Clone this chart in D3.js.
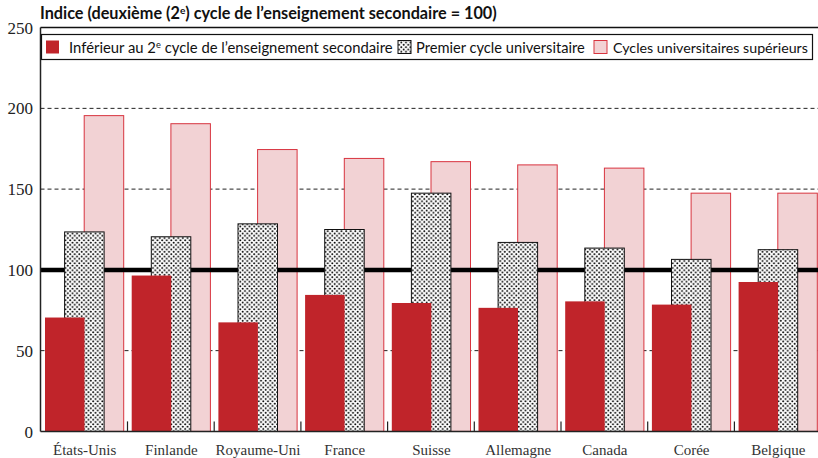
<!DOCTYPE html>
<html>
<head>
<meta charset="utf-8">
<script src="https://cdn.jsdelivr.net/npm/d3@7"></script>
<style>
  body { margin: 0; background: #fff; }
  svg { display: block; }
</style>
</head>
<body>
<div id="wrapper"></div>
<script>
// data
const countries = ["États-Unis", "Finlande", "Royaume-Uni", "France", "Suisse", "Allemagne", "Canada", "Corée", "Belgique"]
const belowUpperSecondary = [70.5, 96.5, 67.5, 84.5, 79.5, 76.5, 80.5, 78.5, 92.5]
const tertiaryTypeB = [123.5, 120.5, 128.5, 125, 147.5, 117, 113.5, 106.5, 112.5]
const tertiaryTypeA = [195.5, 190.5, 174.5, 169, 167, 165, 163, 147.5, 147.5]
const yTicks = [0, 50, 100, 150, 200, 250]
const seriesNames = ["Inférieur au 2e cycle de l’enseignement secondaire", "Premier cycle universitaire", "Cycles universitaires supérieurs"]

function drawChart() {
  // 1. dimensions
  const width = 818
  const height = 458
  const x0 = 40.5

  const svg = d3.select("#wrapper").append("svg")
      .attr("width", width)
      .attr("height", height)

  // 2. scales
  const yScale = d3.scaleLinear()
      .domain([0, 250])
      .range([431.4, 27.6])

  const xScale = d3.scaleBand()
      .domain(countries)
      .range([41.3, 41.3 + 86.7 * countries.length])

  const seriesScale = d3.scalePoint()
      .domain([0, 1, 2])
      .range([3.7, 42.9])
  const barW = 39.5

  // dot pattern
  const pat = svg.append("defs").append("pattern")
      .attr("id", "dots")
      .attr("width", 4.6).attr("height", 4.6)
      .attr("patternUnits", "userSpaceOnUse")
  pat.append("rect").attr("width", 4.6).attr("height", 4.6).attr("fill", "#fff")
  pat.append("circle").attr("cx", 1.15).attr("cy", 1.15).attr("r", 1.0).attr("fill", "#000")
  pat.append("circle").attr("cx", 3.45).attr("cy", 3.45).attr("r", 1.0).attr("fill", "#000")

  // 3. grid lines (dashed)
  svg.append("g").selectAll("line")
    .data([50, 150, 200])
    .join("line")
      .attr("x1", x0).attr("x2", width)
      .attr("y1", d => yScale(d)).attr("y2", d => yScale(d))
      .attr("stroke", "#222")
      .attr("stroke-width", 1)
      .attr("stroke-dasharray", "4,3")

  // 4. bars
  const rows = countries.map((c, i) => ({
    country: c,
    values: [belowUpperSecondary[i], tertiaryTypeB[i], tertiaryTypeA[i]]
  }))

  const drawSeries = (k, fill, stroke) => {
    svg.append("g").selectAll("rect")
      .data(rows)
      .join("rect")
        .attr("x", d => xScale(d.country) + seriesScale(k))
        .attr("y", d => yScale(d.values[k]))
        .attr("width", barW)
        .attr("height", d => yScale(0) - yScale(d.values[k]))
        .attr("fill", fill)
        .attr("stroke", stroke)
        .attr("stroke-width", 1)
  }

  drawSeries(2, "#f2d2d4", "#d8343f")

  // reference line at 100
  svg.append("line")
      .attr("x1", x0).attr("x2", width)
      .attr("y1", yScale(100)).attr("y2", yScale(100))
      .attr("stroke", "#000")
      .attr("stroke-width", 4.5)

  drawSeries(1, "url(#dots)", "#111")
  drawSeries(0, "#c0242a", "none")

  // 5. axes
  svg.append("line")
      .attr("x1", x0).attr("x2", x0)
      .attr("y1", yScale(250)).attr("y2", yScale(0))
      .attr("stroke", "#222").attr("stroke-width", 1.5)
  svg.append("line")
      .attr("x1", x0).attr("x2", width)
      .attr("y1", yScale(0)).attr("y2", yScale(0))
      .attr("stroke", "#222").attr("stroke-width", 1.5)
  svg.append("line")
      .attr("x1", x0).attr("x2", width)
      .attr("y1", yScale(250)).attr("y2", yScale(250))
      .attr("stroke", "#111").attr("stroke-width", 1.5)

  // category separator ticks
  svg.append("g").selectAll("line")
    .data(countries.slice(1))
    .join("line")
      .attr("x1", d => xScale(d) - 0.5).attr("x2", d => xScale(d) - 0.5)
      .attr("y1", yScale(0) - 10).attr("y2", yScale(0))
      .attr("stroke", "#222").attr("stroke-width", 1.2)

  svg.append("g").selectAll("text")
    .data(yTicks)
    .join("text")
      .attr("x", 33)
      .attr("y", d => yScale(d))
      .attr("dy", "0.36em")
      .attr("text-anchor", "end")
      .style("font-family", "'Liberation Serif', 'Times New Roman', serif")
      .style("font-size", "17px")
      .attr("fill", "#222")
      .text(d => d)

  svg.append("g").selectAll("text")
    .data(countries)
    .join("text")
      .attr("x", d => xScale(d) + xScale.bandwidth() / 2)
      .attr("y", 455)
      .attr("text-anchor", "middle")
      .style("font-family", "'Liberation Serif', 'Times New Roman', serif")
      .style("font-size", "15px")
      .attr("fill", "#333")
      .text(d => d)

  // 6. title
  const title = svg.append("text")
      .attr("x", 40)
      .attr("y", 19)
      .style("font-family", "'Liberation Sans Narrow', 'Lato', sans-serif")
      .style("font-size", "16px")
      .style("font-weight", "bold")
      .attr("fill", "#111")
  title.append("tspan").text("Indice (deuxième (2")
  title.append("tspan").attr("dy", -5).style("font-size", "10px").text("e")
  title.append("tspan").attr("dy", 5).text(") cycle de l’enseignement secondaire = 100)")
  fitText(title, 457)

  // 7. legend
  svg.append("rect")
      .attr("x", 41.5).attr("y", 34.5)
      .attr("width", 771).attr("height", 25)
      .attr("fill", "#fff")
      .attr("stroke", "#111").attr("stroke-width", 1.2)

  const legendItems = [
    { sx: 46, tx: 69, w: 324, fill: "#c0242a", stroke: "none" },
    { sx: 398, tx: 416, w: 169, fill: "url(#dots)", stroke: "#111" },
    { sx: 594, tx: 613, w: 195, fill: "#f2d2d4", stroke: "#d8343f" }
  ]
  legendItems.forEach((it, i) => {
    svg.append("rect")
        .attr("x", it.sx).attr("y", 40.5)
        .attr("width", 13).attr("height", 13)
        .attr("fill", it.fill)
        .attr("stroke", it.stroke)
    const t = svg.append("text")
        .attr("x", it.tx).attr("y", 52.5)
        .style("font-family", "'Liberation Sans Narrow', 'Lato', sans-serif")
        .style("font-size", "16px")
        .attr("fill", "#111")
    if (i === 0) {
      t.append("tspan").text("Inférieur au 2")
      t.append("tspan").attr("dy", -5).style("font-size", "10px").text("e")
      t.append("tspan").attr("dy", 5).text(" cycle de l’enseignement secondaire")
    } else {
      t.text(seriesNames[i])
    }
    fitText(t, it.w)
  })
}

// squeeze a text to a given width
function fitText(sel, w) {
  const bw = sel.node().getComputedTextLength()
  if (bw > 0) {
    const s = w / bw
    const fs = parseFloat(sel.style("font-size"))
    sel.selectAll("tspan").each(function() {
      const t = d3.select(this)
      const f = parseFloat(t.style("font-size"))
      t.style("font-size", (f * s) + "px")
    })
    if (sel.selectAll("tspan").empty()) sel.style("font-size", (fs * s) + "px")
  }
}

drawChart()
</script>
</body>
</html>
